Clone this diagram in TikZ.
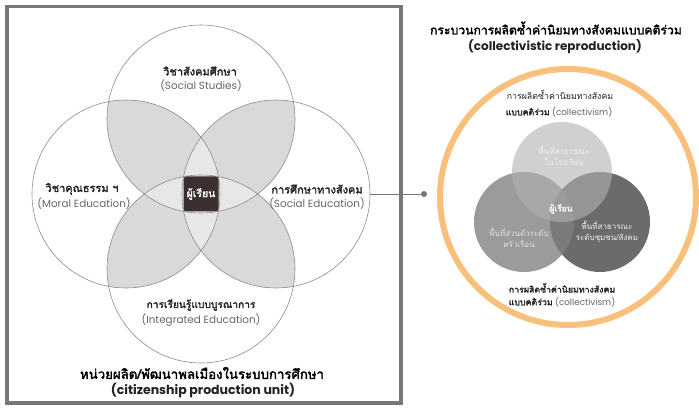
\documentclass[tikz,border=0pt]{standalone}
\usepackage{fontspec}
\setmainfont{Poppins}
\newfontfamily\thai[Script=Thai, BoldFont={Loma}, BoldFeatures={FakeBold=2.2}]{Loma}
\definecolor{framec}{HTML}{777777}
\definecolor{vline}{HTML}{8C8C8C}
\definecolor{lensA}{HTML}{D9D9D9}
\definecolor{lensB}{HTML}{E7E7E7}
\definecolor{sqc}{HTML}{3B2F30}
\definecolor{ringc}{HTML}{F9C07C}
\definecolor{subc}{HTML}{666666}
\definecolor{txtc}{HTML}{222222}
\definecolor{rgC}{HTML}{6B6B6B}
\definecolor{lgC}{HTML}{7F7F7F}
\definecolor{tgC}{HTML}{B1B1B1}
\tikzset{
  venn/.style={circle, draw=vline, line width=0.6pt, minimum size=188pt, inner sep=0pt},
  learner/.style={fill=sqc, rounded corners=3pt, minimum size=35pt, inner sep=0pt, text=white, font=\thai\bfseries\fontsize{10.5}{12}\selectfont},
  th/.style={inner sep=0pt, text=txtc, font=\thai\bfseries\fontsize{11}{12}\selectfont},
  en/.style={inner sep=0pt, text=subc, font=\fontsize{10.4}{11}\selectfont},
  bigth/.style={inner sep=0pt, text=black, font=\thai\bfseries\fontsize{13.2}{15}\selectfont},
  bigen/.style={inner sep=0pt, text=txtc, font=\bfseries\fontsize{12.5}{13}\selectfont},
  small/.style={inner sep=0pt, text=txtc, font=\fontsize{8.8}{9}\selectfont},
  intxt/.style={inner sep=0pt, font=\thai\fontsize{8}{9}\selectfont},
  dotn/.style={circle, fill=framec, minimum size=6pt, inner sep=0pt},
  conn/.style={draw=framec, line width=0.8pt},
  ringn/.style={circle, draw=ringc, line width=6pt, minimum size=256pt, inner sep=0pt},
  small venn/.style={circle, minimum size=100pt, inner sep=0pt}
}
\begin{document}
\begin{tikzpicture}[x=1pt,y=-1pt]
\useasboundingbox (0,0) rectangle (699,411);
\fill[white] (0,0) rectangle (699,411);
% lens fills
\begin{scope}
\clip (201,119) circle[radius=94pt];
\fill[lensA] (126,194) circle[radius=94pt];
\fill[lensA] (276,194) circle[radius=94pt];
\end{scope}
\begin{scope}
\clip (201,269) circle[radius=94pt];
\fill[lensA] (126,194) circle[radius=94pt];
\fill[lensA] (276,194) circle[radius=94pt];
\end{scope}
\begin{scope}
\clip (201,119) circle[radius=94pt];
\fill[lensB] (201,269) circle[radius=94pt];
\end{scope}
\begin{scope}
\clip (126,194) circle[radius=94pt];
\fill[lensB] (276,194) circle[radius=94pt];
\end{scope}
% circles
\node[venn] (cT) at (201,119) {};
\node[venn] (cB) at (201,269) {};
\node[venn] (cL) at (126,194) {};
\node[venn] (cR) at (276,194) {};
\node[learner] (lrn) at (201,194) {ผู้เรียน};
% frame
\draw[framec, line width=3.5pt] (7,6.5) rectangle (401,403);
% labels left
\node[th] (tT1) at (200,71) {วิชาสังคมศึกษา};
\node[en] (tT2) at (201,86) {(Social Studies)};
\node[th] (tL1) at (82,189) {วิชาคุณธรรม ฯ};
\node[en] (tL2) at (84,204) {(Moral Education)};
\node[th] (tR1) at (317,189) {การศึกษาทางสังคม};
\node[en] (tR2) at (317,204) {(Social Education)};
\node[th, font=\thai\bfseries\fontsize{10.2}{12}\selectfont] (tB1) at (201,305) {การเรียนรู้แบบบูรณาการ};
\node[en] (tB2) at (201,320) {(Integrated Education)};
\node[bigth] (tit1) at (202,373) {หน่วยผลิต/พัฒนาพลเมืองในระบบการศึกษา};
\node[bigen] (tit2) at (203,390) {(citizenship production unit)};
% connector
\node[dotn] (dot) at (424,194) {};
\draw[conn] (cR.east) -- (dot);
% right side
\node[ringn] (ring) at (568,197) {};
\node[small venn, fill=rgC] (sR) at (600,222) {};
\node[small venn, fill=lgC, fill opacity=0.78] (sL) at (524,222) {};
\node[small venn, fill=tgC, fill opacity=0.6] (sT) at (562,172) {};
\node[bigth, font=\thai\bfseries\fontsize{12.2}{14}\selectfont] (rt1) at (556,28) {กระบวนการผลิตซ้ำค่านิยมทางสังคมแบบคติร่วม};
\node[bigen, font=\bfseries\fontsize{12}{13}\selectfont] (rt2) at (555,47) {(collectivistic reproduction)};
\node[small] (u1) at (560,95) {{\thai การผลิตซ้ำค่านิยมทางสังคม}};
\node[small] (u2) at (559,112) {{\thai\bfseries แบบคติร่วม} {\color{subc}(collectivism)}};
\node[intxt, text=white!94!black] (st1) at (564,150) {พื้นที่สาธารณะ};
\node[intxt, text=white!94!black] (st2) at (564,162) {ในโรงเรียน};
\node[intxt, text=white!88!black] (sl1) at (519,232) {พื้นที่ส่วนตัวระดับ};
\node[intxt, text=white!88!black] (sl2) at (519,244) {ครัวเรือน};
\node[intxt, text=white!94!black] (sr1) at (607,225) {พื้นที่สาธารณะ};
\node[intxt, text=white!94!black] (sr2) at (607,238) {ระดับชุมชน/สังคม};
\node[intxt, text=white, font=\thai\bfseries\fontsize{8.5}{9}\selectfont] (sc) at (561,209) {ผู้เรียน};
\node[small] (b1) at (562,288) {{\thai\bfseries การผลิตซ้ำค่านิยมทางสังคม}};
\node[small] (b2) at (562,302) {{\thai\bfseries แบบคติร่วม} {\color{subc}(collectivism)}};
\end{tikzpicture}
\end{document}
